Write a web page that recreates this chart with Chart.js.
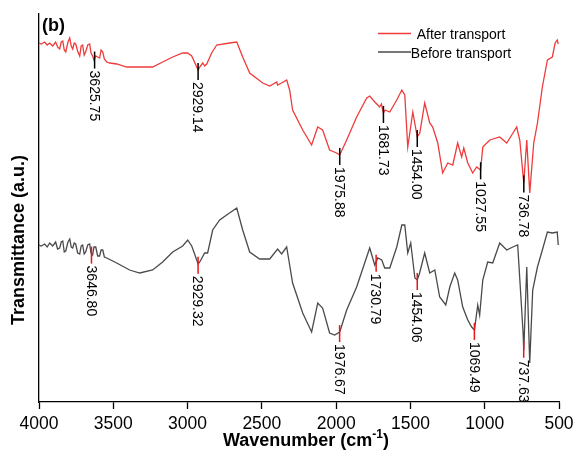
<!DOCTYPE html>
<html>
<head>
<meta charset="utf-8">
<script src="https://cdn.jsdelivr.net/npm/chart.js@4.4.0/dist/chart.umd.min.js"></script>
<style>
  html, body { margin: 0; padding: 0; background: #fff; }
  #wrap { width: 573px; height: 455px; }
</style>
</head>
<body>
<div id="wrap"><canvas id="ftirChart" width="573" height="455"></canvas></div>
<script>
const FONT = "'Liberation Sans', Arial, Helvetica, sans-serif";

// x axis ticks (cm-1)
const tickLabels = [4000, 3500, 3000, 2500, 2000, 1500, 1000, 500];

// After transport (red), transmittance in a.u.
const afterWave = [4000, 3985, 3962, 3945, 3928, 3908, 3888, 3875, 3861, 3850, 3840, 3830, 3820, 3805, 3793, 3783, 3773, 3763, 3753, 3740, 3726, 3716, 3706, 3696, 3686, 3672, 3659, 3650, 3639, 3630, 3618, 3605, 3592, 3582, 3571, 3560, 3544, 3524, 3477, 3410, 3322, 3235, 3168, 3100, 3033, 2999, 2972, 2929, 2918, 2898, 2885, 2871, 2838, 2804, 2717, 2669, 2629, 2582, 2494, 2447, 2400, 2394, 2367, 2333, 2313, 2293, 2225, 2165, 2124, 2091, 2044, 1997, 1976, 1929, 1862, 1794, 1774, 1740, 1707, 1695, 1682, 1670, 1639, 1592, 1558, 1538, 1518, 1484, 1454, 1437, 1404, 1370, 1350, 1316, 1283, 1249, 1215, 1182, 1155, 1141, 1114, 1081, 1054, 1028, 1013, 966, 899, 852, 818, 785, 764, 737, 717, 697, 670, 645, 612, 578, 545, 526, 512, 505];
const afterValues = [359, 358, 360, 357, 359, 356, 360, 355, 353, 360, 361, 352, 350, 360, 364, 356, 353, 359, 358, 351, 346, 356, 357, 347, 350, 357, 358, 349, 346, 342, 346, 345, 344, 352, 350, 343, 340, 339, 338, 335, 335, 335, 340, 345, 349, 349, 346, 332, 335, 339, 336, 338, 349, 357, 359, 360, 345, 329, 319, 316, 320, 317, 319, 322, 312, 292, 272, 257, 275, 272, 252, 249, 247, 262, 285, 304, 306, 300, 295, 298, 289, 292, 290, 302, 312, 307, 255, 290, 265, 269, 299, 279, 275, 259, 229, 239, 237, 259, 245, 254, 239, 229, 235, 232, 255, 262, 265, 259, 267, 275, 262, 219, 262, 209, 259, 279, 315, 342, 345, 359, 362, 358];

// Before transport (dark grey)
const beforeWave = [4000, 3985, 3962, 3945, 3928, 3908, 3888, 3875, 3861, 3850, 3840, 3830, 3820, 3805, 3793, 3783, 3773, 3763, 3753, 3740, 3726, 3716, 3706, 3696, 3686, 3672, 3659, 3650, 3639, 3630, 3618, 3605, 3592, 3582, 3571, 3560, 3544, 3477, 3390, 3322, 3235, 3168, 3100, 3033, 2999, 2972, 2929, 2918, 2885, 2865, 2831, 2784, 2737, 2669, 2629, 2582, 2515, 2447, 2394, 2367, 2333, 2313, 2293, 2225, 2165, 2124, 2091, 2044, 2010, 1976, 1929, 1862, 1808, 1774, 1740, 1720, 1693, 1673, 1639, 1592, 1558, 1538, 1518, 1498, 1470, 1454, 1440, 1404, 1370, 1336, 1303, 1262, 1235, 1202, 1182, 1148, 1114, 1088, 1069, 1047, 1034, 1013, 980, 946, 899, 852, 811, 778, 742, 737, 717, 697, 677, 645, 612, 578, 545, 512, 505];
const beforeValues = [157, 156, 158, 155, 159, 156, 160, 153, 154, 160, 161, 150, 151, 160, 163, 155, 154, 159, 158, 149, 148, 156, 157, 148, 150, 157, 158, 149, 147, 155, 155, 146, 146, 152, 152, 145, 144, 139, 132, 129, 132, 140, 150, 156, 162, 156, 138, 140, 149, 149, 172, 182, 187, 194, 172, 150, 143, 143, 153, 148, 155, 137, 119, 89, 70, 99, 94, 69, 67, 70, 92, 115, 139, 154, 137, 144, 142, 134, 134, 155, 177, 177, 149, 159, 124, 122, 128, 149, 129, 132, 105, 97, 115, 129, 122, 95, 82, 75, 72, 97, 87, 122, 140, 139, 159, 152, 155, 157, 70, 52, 135, 39, 112, 135, 152, 170, 169, 170, 157];

// labelled peaks
const afterPeaks = [3625.75, 2929.14, 1975.88, 1681.73, 1454.00, 1027.55, 736.78];
const beforePeaks = [3646.80, 2929.32, 1976.67, 1730.79, 1454.06, 1069.49, 737.63];

const seriesNames = ["After transport", "Before transport"];
const seriesColors = ["#ef3b3b", "#4a4a4a"];

function toPoints(waves, vals) {
  return waves.map((w, i) => ({ x: w, y: vals[i] }));
}

// linear lookup of the curve at a wavenumber
function valueAt(waves, vals, w) {
  for (let i = 0; i < waves.length - 1; i++) {
    if ((waves[i] - w) * (waves[i + 1] - w) <= 0) {
      const t = (w - waves[i]) / (waves[i + 1] - waves[i]);
      return vals[i] + t * (vals[i + 1] - vals[i]);
    }
  }
  return vals[vals.length - 1];
}

function drawPeaks(ctx, xs, ys, waves, vals, peaks, markColor) {
  peaks.forEach(p => {
    const px = xs.getPixelForValue(p);
    const py = ys.getPixelForValue(valueAt(waves, vals, p));
    ctx.strokeStyle = markColor;
    ctx.lineWidth = 1.5;
    ctx.beginPath();
    ctx.moveTo(px, py - 7);
    ctx.lineTo(px, py + 10);
    ctx.stroke();

    ctx.save();
    ctx.translate(px - 1, py + 12);
    ctx.rotate(Math.PI / 2);
    ctx.fillStyle = "#000";
    ctx.font = "14px " + FONT;
    ctx.textAlign = "left";
    ctx.textBaseline = "middle";
    ctx.fillText(p.toFixed(2), 0, 0);
    ctx.restore();
  });
}

const decorPlugin = {
  id: "decor",
  afterDatasetsDraw(chart) {
    const { ctx, scales: { x, y } } = chart;
    drawPeaks(ctx, x, y, afterWave, afterValues, afterPeaks, "#000");
    drawPeaks(ctx, x, y, beforeWave, beforeValues, beforePeaks, "#e8161b");
  },
  afterDraw(chart) {
    const ctx = chart.ctx;
    ctx.save();
    ctx.fillStyle = "#000";

    // panel letter
    ctx.font = "bold 18px " + FONT;
    ctx.textAlign = "left";
    ctx.textBaseline = "alphabetic";
    ctx.fillText("(b)", 42, 31);

    // y title
    ctx.save();
    ctx.translate(19, 240);
    ctx.rotate(-Math.PI / 2);
    ctx.textAlign = "center";
    ctx.textBaseline = "middle";
    ctx.fillText("Transmittance (a.u.)", 0, 0);
    ctx.restore();

    // x title with superscript
    const main = "Wavenumber (cm";
    const sup = "-1";
    ctx.font = "bold 18px " + FONT;
    const w1 = ctx.measureText(main).width;
    const w3 = ctx.measureText(")").width;
    ctx.font = "bold 12px " + FONT;
    const w2 = ctx.measureText(sup).width;
    let sx = 306 - (w1 + w2 + w3) / 2;
    ctx.font = "bold 18px " + FONT;
    ctx.fillText(main, sx, 446);
    ctx.font = "bold 12px " + FONT;
    ctx.fillText(sup, sx + w1, 438);
    ctx.font = "bold 18px " + FONT;
    ctx.fillText(")", sx + w1 + w2, 446);

    // legend
    ctx.font = "14px " + FONT;
    ctx.textAlign = "center";
    const rows = [33.5, 52];
    seriesNames.forEach((name, i) => {
      ctx.strokeStyle = seriesColors[i];
      ctx.lineWidth = 1.5;
      ctx.beginPath();
      ctx.moveTo(378, rows[i]);
      ctx.lineTo(411, rows[i]);
      ctx.stroke();
      ctx.fillStyle = "#000";
      ctx.fillText(name, 461, rows[i] + 5.5);
    });
    ctx.restore();
  }
};

const ctx = document.getElementById("ftirChart").getContext("2d");

new Chart(ctx, {
  type: "line",
  data: {
    datasets: [
      {
        label: seriesNames[0],
        data: toPoints(afterWave, afterValues),
        borderColor: seriesColors[0],
        borderWidth: 1.3,
        pointRadius: 0,
        tension: 0,
        fill: false
      },
      {
        label: seriesNames[1],
        data: toPoints(beforeWave, beforeValues),
        borderColor: seriesColors[1],
        borderWidth: 1.3,
        pointRadius: 0,
        tension: 0,
        fill: false
      }
    ]
  },
  options: {
    responsive: false,
    animation: false,
    parsing: false,
    layout: { padding: { top: 14, right: 14, left: 0, bottom: 0 } },
    plugins: {
      legend: { display: false },
      tooltip: { enabled: false }
    },
    scales: {
      x: {
        type: "linear",
        reverse: true,
        min: 500,
        max: 4000,
        afterBuildTicks: s => { s.ticks = tickLabels.map(v => ({ value: v })); },
        afterFit: s => {
          s.height = 53;
          s.paddingLeft = 0;
          s.paddingRight = 0;
        },
        ticks: {
          autoSkip: false,
          maxRotation: 0,
          padding: 5,
          color: "#000",
          font: { family: FONT, size: 17.5 },
          callback: v => String(v)
        },
        grid: {
          drawOnChartArea: false,
          tickLength: 7,
          tickColor: "#000",
          tickWidth: 1.3
        },
        border: { color: "#000", width: 1.3 }
      },
      y: {
        min: 0,
        max: 388,
        afterFit: s => { s.width = 39; },
        ticks: { display: false },
        grid: { display: false },
        border: { display: true, color: "#000", width: 1.3 }
      }
    }
  },
  plugins: [decorPlugin]
});
</script>
</body>
</html>
